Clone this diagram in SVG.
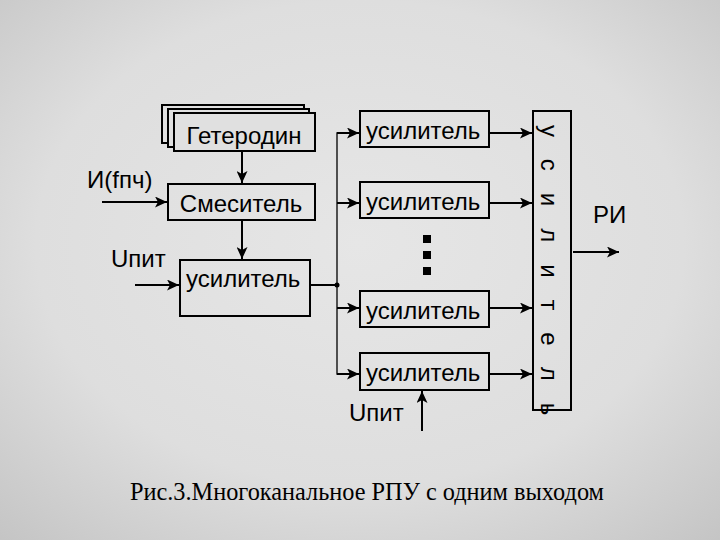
<svg xmlns="http://www.w3.org/2000/svg" width="720" height="540" viewBox="0 0 720 540">
<defs>
<radialGradient id="bg" cx="50%" cy="45%" r="75%">
<stop offset="0" stop-color="#e6e6e6"/>
<stop offset="0.6" stop-color="#dedede"/>
<stop offset="1" stop-color="#c4c4c4"/>
</radialGradient>
<marker id="ar" markerWidth="13" markerHeight="11" refX="12" refY="5.5" orient="auto" markerUnits="userSpaceOnUse">
<path d="M0,0 L12,5.5 L0,11 L3,5.5 Z" fill="#000"/>
</marker>
<style>
.box{fill:none;stroke:#000;stroke-width:2}
.t{font-family:"Liberation Sans",Arial,sans-serif;font-size:24px;fill:#000}
.ln{stroke:#000;stroke-width:2;fill:none}
.thin{stroke:#000;stroke-width:1.3;fill:none}
.cap{font-family:"Liberation Serif","Times New Roman",serif;font-size:24.3px;fill:#000}
</style>
</defs>
<rect width="720" height="540" fill="url(#bg)"/>

<g id="geterodin">
<rect class="box" x="162" y="105" width="142" height="38" style="fill:#e0e0e0"/>
<rect class="box" x="168" y="109" width="141" height="38" style="fill:#e0e0e0"/>
<rect class="box" x="174" y="113" width="141" height="38" style="fill:#e0e0e0"/>
<text class="t" x="244" y="144" text-anchor="middle">Гетеродин</text>
</g>
<g id="smesitel">
<rect class="box" x="168" y="184" width="147" height="36"/>
<text class="t" x="241" y="212" text-anchor="middle">Смеситель</text>
</g>
<g id="usil0">
<rect class="box" x="180" y="260" width="130" height="56"/>
<text class="t" x="186" y="287">усилитель</text>
</g>
<g id="usil1">
<rect class="box" x="360" y="111" width="129" height="36"/>
<text class="t" x="366" y="139">усилитель</text>
</g>
<g id="usil2">
<rect class="box" x="360" y="182" width="129" height="36"/>
<text class="t" x="366" y="210">усилитель</text>
</g>
<g id="usil3">
<rect class="box" x="360" y="291" width="129" height="36"/>
<text class="t" x="366" y="319">усилитель</text>
</g>
<g id="usil4">
<rect class="box" x="360" y="353" width="129" height="37"/>
<text class="t" x="366" y="381">усилитель</text>
</g>
<g id="summator">
<rect class="box" x="533" y="111" width="38" height="299"/>
<text class="t" transform="translate(541,125) rotate(90)" letter-spacing="22">усилитель</text>
</g>
<g id="dots">
<rect x="423" y="235" width="8" height="8" fill="#000"/>
<rect x="423" y="251" width="8" height="8" fill="#000"/>
<rect x="423" y="267" width="8" height="8" fill="#000"/>
</g>
<g id="labels">
<text class="t" x="87" y="188">И(fпч)</text>
<text class="t" x="111" y="267">Uпит</text>
<text class="t" x="349" y="421">Uпит</text>
<text class="t" x="593" y="223">РИ</text>
<text class="cap" x="130" y="500">Рис.3.Многоканальное РПУ с одним выходом</text>
</g>
<g id="connectors">
<line class="ln" x1="242" y1="151" x2="242" y2="183" marker-end="url(#ar)"/>
<line class="ln" x1="102" y1="202" x2="167" y2="202" marker-end="url(#ar)"/>
<line class="ln" x1="242" y1="220" x2="242" y2="259" marker-end="url(#ar)"/>
<line class="ln" x1="135" y1="285" x2="179" y2="285" marker-end="url(#ar)"/>
<line class="ln" x1="310" y1="285" x2="337" y2="285"/>
<circle cx="337" cy="285" r="2.5" fill="#000"/>
<path class="thin" d="M359,133 H337 V374 H359"/>
<line class="ln" x1="337" y1="133" x2="359" y2="133" marker-end="url(#ar)"/>
<line class="ln" x1="337" y1="203" x2="359" y2="203" marker-end="url(#ar)"/>
<line class="ln" x1="337" y1="308" x2="359" y2="308" marker-end="url(#ar)"/>
<line class="ln" x1="337" y1="374" x2="359" y2="374" marker-end="url(#ar)"/>
<line class="ln" x1="489" y1="133" x2="532" y2="133" marker-end="url(#ar)"/>
<line class="ln" x1="489" y1="203" x2="532" y2="203" marker-end="url(#ar)"/>
<line class="ln" x1="489" y1="308" x2="532" y2="308" marker-end="url(#ar)"/>
<line class="ln" x1="489" y1="374" x2="532" y2="374" marker-end="url(#ar)"/>
<line class="ln" x1="422" y1="431" x2="422" y2="391" marker-end="url(#ar)"/>
<line class="ln" x1="573" y1="252" x2="619" y2="252" marker-end="url(#ar)"/>
</g>
</svg>
